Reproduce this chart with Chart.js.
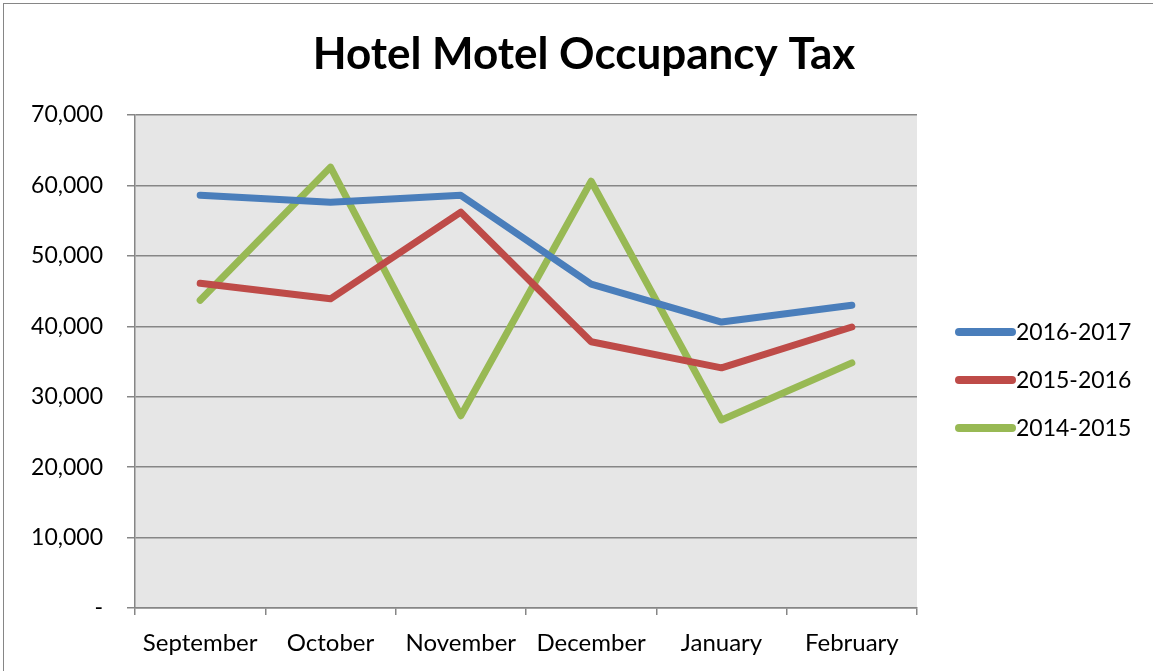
<!DOCTYPE html>
<html>
<head>
<meta charset="utf-8">
<script src="https://cdn.jsdelivr.net/npm/chart.js@4"></script>
<style>
  html, body { margin: 0; padding: 0; background: #fff; }
  #wrap { width: 1153px; height: 671px; position: relative; }
</style>
</head>
<body>
<div id="wrap"><canvas id="c" width="1153" height="671"></canvas></div>
<script>
/* Hotel Motel Occupancy Tax — line chart */
const months = ["September", "October", "November", "December", "January", "February"];
const fy2017 = [58600, 57600, 58600, 46000, 40600, 43000];
const fy2016 = [46100, 43900, 56200, 37800, 34100, 39900];
const fy2015 = [43700, 62600, 27300, 60600, 26700, 34800];
const seriesNames = ["2016-2017", "2015-2016", "2014-2015"];
const yTickLabels = ["-", "10,000", "20,000", "30,000", "40,000", "50,000", "60,000", "70,000"];
const title = "Hotel Motel Occupancy Tax";

const FONT = "Lato, 'Open Sans', sans-serif";
const colors = ["#4a7ebb", "#be4b48", "#98b954"];

/* ── plot background, frame, title, legend ── */
const decor = {
  id: "decor",
  beforeDraw(chart) {
    const { ctx, chartArea: a } = chart;
    ctx.save();
    ctx.fillStyle = "#e6e6e6";
    ctx.fillRect(a.left, a.top, a.right - a.left, a.bottom - a.top);
    ctx.restore();
  },
  afterDraw(chart) {
    const ctx = chart.ctx;
    ctx.save();
    ctx.strokeStyle = "#868686";
    ctx.lineWidth = 1;
    ctx.strokeRect(3.5, 3.5, 1160, 680);

    ctx.fillStyle = "#000";
    ctx.font = "bold 44px " + FONT;
    ctx.textAlign = "center";
    ctx.textBaseline = "middle";
    ctx.fillText(title, 584, 55);

    ctx.font = "23px " + FONT;
    ctx.textAlign = "left";
    chart.data.datasets.forEach((ds, i) => {
      const y = 332 + i * 48;
      ctx.strokeStyle = ds.borderColor;
      ctx.lineWidth = 8;
      ctx.lineCap = "round";
      ctx.beginPath();
      ctx.moveTo(959, y);
      ctx.lineTo(1012, y);
      ctx.stroke();
      ctx.fillText(ds.label, 1016, y + 1);
    });
    ctx.restore();
  }
};

const mk = (label, data, i) => ({
  label, data,
  borderColor: colors[i], backgroundColor: colors[i],
  borderWidth: 7, borderCapStyle: "round", borderJoinStyle: "round",
  pointRadius: 0, pointHoverRadius: 0, tension: 0
});

new Chart(document.getElementById("c"), {
  type: "line",
  data: {
    labels: months,
    datasets: [mk(seriesNames[0], fy2017, 0), mk(seriesNames[1], fy2016, 1), mk(seriesNames[2], fy2015, 2)]
  },
  options: {
    responsive: false,
    animation: false,
    events: [],
    layout: { padding: { left: 0, top: 115, right: 236, bottom: 0 } },
    plugins: { legend: { display: false }, title: { display: false }, tooltip: { enabled: false } },
    scales: {
      x: {
        offset: true,
        grid: { offset: true, drawOnChartArea: false, drawTicks: true, tickLength: 7, color: "#868686", lineWidth: 1.5 },
        border: { color: "#868686", width: 1.5 },
        ticks: { color: "#000", font: { family: FONT, size: 24 }, padding: 14, maxRotation: 0, autoSkip: false },
        afterFit(s) { s.height = 63; }
      },
      y: {
        min: 0, max: 70000,
        grid: { color: "#868686", lineWidth: 1.5, tickLength: 8 },
        border: { color: "#868686", width: 1.5 },
        ticks: {
          stepSize: 10000, color: "#000", font: { family: FONT, size: 23 }, padding: 24,
          callback: (v, i) => yTickLabels[i]
        },
        afterFit(s) { s.width = 135; }
      }
    }
  },
  plugins: [decor]
});
</script>
</body>
</html>
